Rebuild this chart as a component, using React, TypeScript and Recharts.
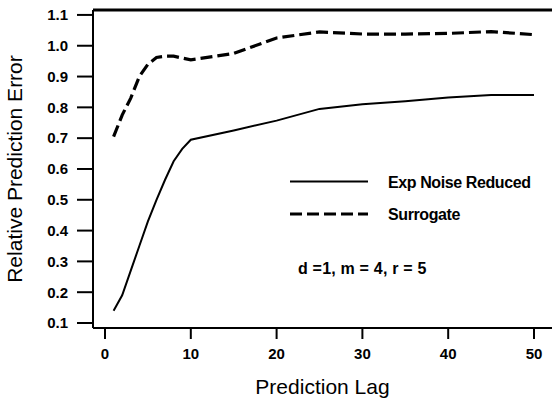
import React from 'react';
import { LineChart, Line, XAxis, YAxis, ReferenceLine, Legend, Label } from 'recharts';

const lags = [1, 2, 3, 4, 5, 6, 7, 8, 9, 10, 15, 20, 25, 30, 35, 40, 45, 50];
const expNoiseReduced = [0.14, 0.19, 0.27, 0.35, 0.43, 0.5, 0.565, 0.625, 0.665, 0.695, 0.725, 0.757, 0.795, 0.81, 0.82, 0.832, 0.84, 0.84];
const surrogate = [0.705, 0.775, 0.83, 0.9, 0.94, 0.962, 0.966, 0.966, 0.96, 0.954, 0.975, 1.025, 1.045, 1.038, 1.038, 1.04, 1.046, 1.036];
const xTicks = [0, 10, 20, 30, 40, 50];
const yTicks = [0.1, 0.2, 0.3, 0.4, 0.5, 0.6, 0.7, 0.8, 0.9, 1.0, 1.1];
const seriesNames = ['Exp Noise Reduced', 'Surrogate'];
const annotation = 'd =1, m = 4, r = 5';
const xDomain: [number, number] = [-1.4, 52.1];
const yDomain: [number, number] = [0.0838, 1.116];

const data = lags.map((lag, i) => ({ lag, exp: expNoiseReduced[i], sur: surrogate[i] }));

const FONT = '"Liberation Sans", Arial, Helvetica, sans-serif';

const LegendBox = () => (
  <svg width={264} height={125} style={{ display: 'block', fontFamily: FONT }}>
    <line x1={2} y1={21.5} x2={80} y2={21.5} stroke="#000" strokeWidth={2} />
    <text x={100} y={27.5} fontSize={16} fontWeight="bold" letterSpacing={-0.4} fill="#000">{seriesNames[0]}</text>
    <line x1={2} y1={54} x2={80} y2={54} stroke="#000" strokeWidth={3.2} strokeDasharray="12 5" />
    <text x={100} y={59.5} fontSize={16} fontWeight="bold" letterSpacing={-0.4} fill="#000">{seriesNames[1]}</text>
    <text x={10} y={114} fontSize={16} fontWeight="bold" letterSpacing={0.2} fill="#000">{annotation}</text>
  </svg>
);

export default function App() {
  return (
    <div style={{ position: 'absolute', left: 0, top: 0, width: 552, height: 400, background: '#fff' }}>
      <LineChart width={552} height={400} data={data} margin={{ top: 10, right: 0, bottom: 0, left: 0 }}>
        <XAxis
          dataKey="lag"
          type="number"
          domain={xDomain}
          ticks={xTicks}
          allowDataOverflow
          height={72}
          tickSize={11}
          tickMargin={9}
          axisLine={{ stroke: '#000', strokeWidth: 2 }}
          tickLine={{ stroke: '#000', strokeWidth: 2 }}
          tick={{ fill: '#000', fontSize: 15, fontWeight: 'bold', fontFamily: FONT }}
        >
          <Label value="Prediction Lag" position="insideBottom" offset={6} style={{ fill: '#000', fontSize: 21, fontFamily: FONT }} />
        </XAxis>
        <YAxis
          type="number"
          domain={yDomain}
          ticks={yTicks}
          allowDataOverflow
          width={93}
          tickSize={16}
          tickMargin={9}
          tickFormatter={(v: number) => v.toFixed(1)}
          axisLine={{ stroke: '#000', strokeWidth: 2 }}
          tickLine={{ stroke: '#000', strokeWidth: 2 }}
          tick={{ fill: '#000', fontSize: 15, fontWeight: 'bold', fontFamily: FONT }}
        >
          <Label value="Relative Prediction Error" angle={-90} position="insideLeft" offset={15} style={{ fill: '#000', fontSize: 21, fontFamily: FONT, textAnchor: 'middle' }} />
        </YAxis>
        <ReferenceLine y={yDomain[1]} stroke="#000" strokeWidth={3} ifOverflow="extendDomain" />
        <Line type="linear" dataKey="exp" stroke="#000" strokeWidth={2} dot={false} isAnimationActive={false} />
        <Line type="linear" dataKey="sur" stroke="#000" strokeWidth={3.2} strokeDasharray="12 5" dot={false} isAnimationActive={false} />
        <Legend
          layout="vertical"
          align="center"
          verticalAlign="middle"
          content={() => <LegendBox />}
          wrapperStyle={{ position: 'absolute', left: 288, top: 160, width: 264, height: 125 }}
        />
      </LineChart>
    </div>
  );
}
